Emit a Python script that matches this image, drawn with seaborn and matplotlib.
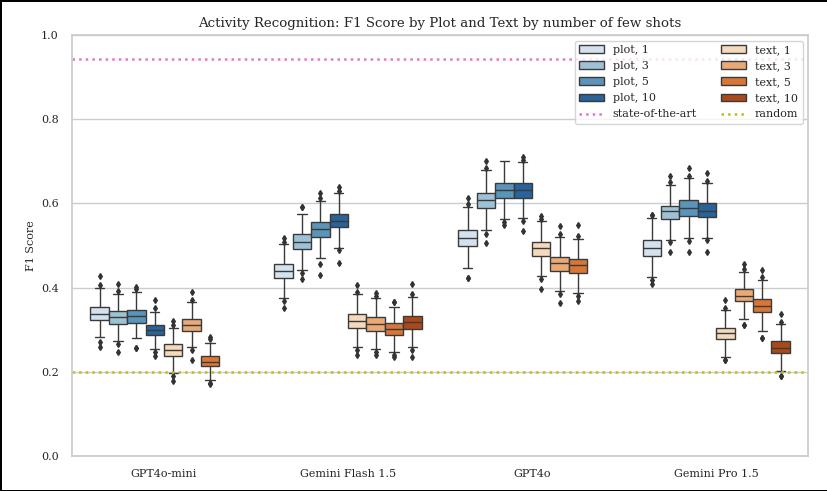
import numpy as np
import pandas as pd
import matplotlib
matplotlib.use("Agg")
import matplotlib.pyplot as plt
import seaborn as sns

models = ["GPT4o-mini", "Gemini Flash 1.5", "GPT4o", "Gemini Pro 1.5"]
conditions = ["plot, 1", "plot, 3", "plot, 5", "plot, 10",
              "text, 1", "text, 3", "text, 5", "text, 10"]

# Box statistics: one row per condition, one column per model
whisker_low = [
    [0.283, 0.376, 0.446, 0.426],
    [0.273, 0.441, 0.537, 0.514],
    [0.281, 0.470, 0.563, 0.518],
    [0.254, 0.495, 0.565, 0.519],
    [0.198, 0.258, 0.428, 0.236],
    [0.259, 0.253, 0.392, 0.325],
    [0.180, 0.246, 0.387, 0.297],
    [None, 0.260, None, 0.203],
]
q1 = [
    [0.322, 0.422, 0.499, 0.476],
    [0.314, 0.492, 0.588, 0.562],
    [0.317, 0.520, 0.614, 0.571],
    [0.287, 0.543, 0.614, 0.567],
    [0.237, 0.305, 0.476, 0.277],
    [0.297, 0.298, 0.440, 0.367],
    [0.213, 0.288, 0.435, 0.342],
    [None, 0.302, None, 0.244],
]
median = [
    [0.338, 0.439, 0.518, 0.493],
    [0.330, 0.509, 0.608, 0.581],
    [0.332, 0.539, 0.631, 0.590],
    [0.299, 0.558, 0.631, 0.583],
    [0.251, 0.321, 0.493, 0.291],
    [0.311, 0.314, 0.458, 0.381],
    [0.224, 0.302, 0.453, 0.357],
    [None, 0.318, None, 0.257],
]
q3 = [
    [0.354, 0.455, 0.537, 0.512],
    [0.344, 0.527, 0.625, 0.595],
    [0.347, 0.555, 0.649, 0.607],
    [0.311, 0.576, 0.648, 0.600],
    [0.265, 0.337, 0.509, 0.305],
    [0.325, 0.329, 0.473, 0.396],
    [0.237, 0.317, 0.468, 0.373],
    [None, 0.333, None, 0.272],
]
whisker_high = [
    [0.398, 0.503, 0.592, 0.565],
    [0.384, 0.576, 0.679, 0.643],
    [0.389, 0.606, 0.700, 0.660],
    [0.343, 0.625, 0.698, 0.648],
    [0.305, 0.384, 0.558, 0.346],
    [0.366, 0.375, 0.521, 0.437],
    [0.268, 0.355, 0.516, 0.418],
    [None, 0.378, None, 0.313],
]
outliers_low = [
    [[0.270, 0.260], [0.368, 0.352], [0.422], [0.418, 0.409]],
    [[0.265, 0.248], [0.435, 0.420], [0.528, 0.505], [0.508, 0.485]],
    [[0.256], [0.455, 0.431], [0.557, 0.549], [0.510, 0.485]],
    [[0.248, 0.238], [0.489, 0.458], [0.558, 0.534], [0.512, 0.485]],
    [[0.191, 0.179], [0.252, 0.239], [0.420, 0.396], [0.228]],
    [[0.251, 0.228], [0.247, 0.239], [0.385, 0.364], [0.311]],
    [[0.174, 0.170], [0.240, 0.236], [0.380, 0.369], [0.281]],
    [[], [0.251, 0.236], [], [0.191]],
]
outliers_high = [
    [[0.406, 0.428], [0.508, 0.517], [0.598, 0.612], [0.572]],
    [[0.393, 0.408], [0.591], [0.685, 0.701], [0.650, 0.666]],
    [[0.396, 0.402], [0.612, 0.624], [], [0.666, 0.683]],
    [[0.351, 0.370], [0.630, 0.640], [0.703, 0.711], [0.654, 0.673]],
    [[0.311, 0.321], [0.390, 0.406], [0.563, 0.570], [0.352, 0.371]],
    [[0.371, 0.389], [0.380, 0.386], [0.527, 0.546], [0.444, 0.456]],
    [[0.277, 0.283], [0.366], [0.522, 0.549], [0.425, 0.442]],
    [[], [0.385, 0.409], [], [0.319, 0.337]],
]

sota_score = 0.943
random_score = 0.2

# Build sample sets whose box statistics equal the values read above
rows = []
k = 20
for ci, cond in enumerate(conditions):
    for mi, model in enumerate(models):
        if median[ci][mi] is None:
            continue
        lo = list(outliers_low[ci][mi])
        hi = list(outliers_high[ci][mi])
        while len(lo) < 2:
            lo.append(lo[-1] if lo else whisker_low[ci][mi])
        while len(hi) < 2:
            hi.append(hi[-1] if hi else whisker_high[ci][mi])
        vals = (lo + [whisker_low[ci][mi]] + [q1[ci][mi]] * k + [median[ci][mi]]
                + [q3[ci][mi]] * k + [whisker_high[ci][mi]] + hi)
        for v in vals:
            rows.append({"model": model, "condition": cond, "F1": v})
df = pd.DataFrame(rows)

sns.set_theme(style="whitegrid")
plt.rcParams["font.family"] = ["DejaVu Serif"]

palette = sns.color_palette("Blues", 4) + sns.color_palette("Oranges", 4)

fig = plt.figure(figsize=(8.28, 4.91), dpi=100)
ax = fig.add_axes([0.087, 0.0713, 0.889, 0.8574])

sns.boxplot(data=df, x="model", y="F1", hue="condition", order=models,
            hue_order=conditions, palette=palette, ax=ax,
            fliersize=3, linewidth=1.0,
            flierprops={"marker": "d", "markerfacecolor": "#333333",
                        "markeredgecolor": "#333333"})

ax.axhline(sota_score, color="tab:pink", linestyle=":", linewidth=1.8,
           label="state-of-the-art")
ax.axhline(random_score, color="tab:olive", linestyle=":", linewidth=1.8,
           label="random")

leg = ax.get_legend()
handles = list(leg.legend_handles)
labels = [t.get_text() for t in leg.get_texts()]
leg.remove()
line_h, line_l = ax.get_legend_handles_labels()
lh = dict(zip(line_l, line_h))
handles = handles[:4] + [lh["state-of-the-art"]] + handles[4:] + [lh["random"]]
labels = labels[:4] + ["state-of-the-art"] + labels[4:] + ["random"]
ax.legend(handles, labels, ncol=2, loc="upper right", fontsize=8,
          columnspacing=2.2, handlelength=2.2, labelspacing=0.55,
          borderpad=0.4, frameon=True)

ax.set_ylim(0, 1.0)
ax.set_yticks([0.0, 0.2, 0.4, 0.6, 0.8, 1.0])
ax.set_yticklabels(["0.0", "0.2", "0.4", "0.6", "0.8", "1.0"])
ax.set_xlabel("")
ax.set_ylabel("F1 Score", fontsize=8)
ax.tick_params(axis="both", labelsize=8)
ax.set_title("Activity Recognition: F1 Score by Plot and Text by number of few shots",
             fontsize=9.6)

fig.patch.set_edgecolor("black")
fig.patch.set_linewidth(2)

fig.savefig("out.png", dpi=100, edgecolor=fig.get_edgecolor())
